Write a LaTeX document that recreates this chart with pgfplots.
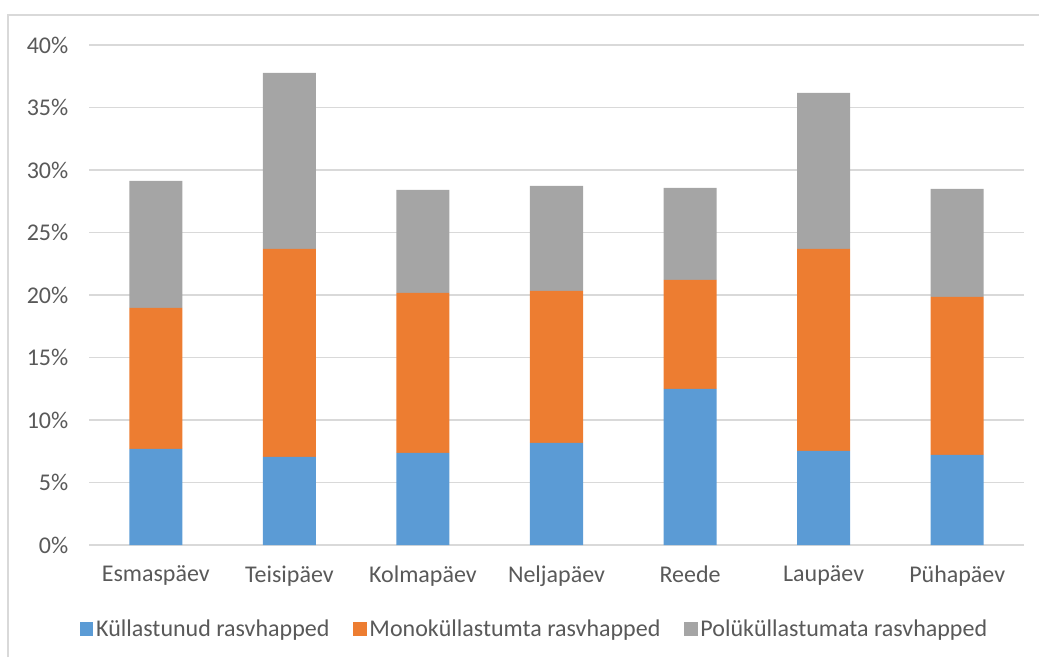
\documentclass[border=0pt]{standalone}
\usepackage{pgfplots}
\pgfplotsset{compat=1.18}
\usepackage{fontspec}
\setmainfont{Carlito}
\definecolor{cblue}{HTML}{5B9BD5}
\definecolor{corange}{HTML}{ED7D31}
\definecolor{cgray}{HTML}{A5A5A5}
\definecolor{ctext}{HTML}{595959}
\definecolor{cgrid}{HTML}{D9D9D9}
\begin{document}
\begin{tikzpicture}[x=0.75pt,y=0.75pt]
\useasboundingbox (0,0) rectangle (1039,657);
\draw[cgrid,line width=1pt] (8,0) -- (8,642) -- (1039,642);
\begin{axis}[
  at={(66.75pt,84pt)}, anchor=south west,
  scale only axis, width=701.25pt, height=375pt,
  ybar stacked, bar width=0.397,
  xmin=-0.5, xmax=6.5, ymin=0, ymax=40,
  xtick=data,
  xticklabels={Esmaspäev,Teisipäev,Kolmapäev,Neljapäev,Reede,Laupäev,Pühapäev},
  ytick={0,5,...,40},
  yticklabel={\pgfmathprintnumber{\tick}\%},
  /pgf/number format/assume math mode=true,
  axis line style={draw=none},
  axis x line*=bottom,
  ymajorgrids, grid style={cgrid,line width=1pt},
  major tick length=0pt,
  tick label style={font=\fontsize{18}{21}\selectfont, text=ctext},
  yticklabel style={xshift=-12pt},
  xticklabel style={yshift=-12pt},
  legend style={draw=none, at={(0.477,-0.168)}, anchor=center,
    font=\fontsize{18}{21}\selectfont, text=ctext,
    legend columns=3, /tikz/every even column/.append style={column sep=16pt}},
  legend image code/.code={\fill[#1] (0pt,-5pt) rectangle (10pt,5pt);},
]
\addplot[fill=cblue, draw=none] coordinates {(0,7.68) (1,7.04) (2,7.36) (3,8.16) (4,12.48) (5,7.52) (6,7.20)};
\addplot[fill=corange, draw=none] coordinates {(0,11.28) (1,16.64) (2,12.80) (3,12.16) (4,8.72) (5,16.16) (6,12.64)};
\addplot[fill=cgray, draw=none] coordinates {(0,10.16) (1,14.08) (2,8.24) (3,8.40) (4,7.36) (5,12.48) (6,8.64)};
\draw[cgrid,line width=1pt] (axis cs:-0.5,0) -- (axis cs:6.5,0);
\legend{Küllastunud rasvhapped, Monoküllastumta rasvhapped, Polüküllastumata rasvhapped}
\end{axis}
\end{tikzpicture}
\end{document}
